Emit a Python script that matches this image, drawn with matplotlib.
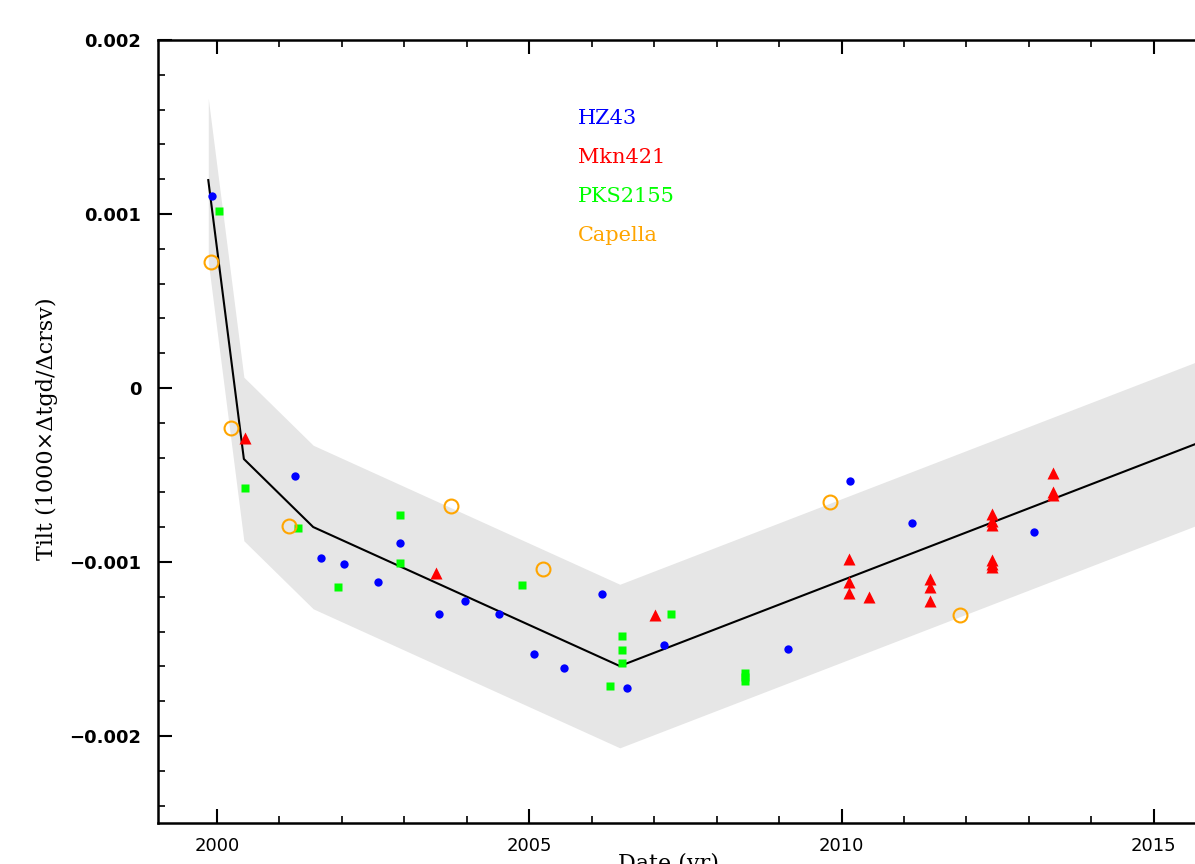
import numpy as np
import matplotlib
matplotlib.use("Agg")
import matplotlib.pyplot as plt
from matplotlib.ticker import MultipleLocator, FuncFormatter

# model line (yr, tilt) and half-width of the shaded band
model_x = [1999.86, 2000.43, 2001.54, 2006.45, 2016.0]
model_y = [0.001195, -0.000408, -0.000799, -0.001598, -0.000276]
band_halfwidth = 0.00047

hz43_x = [1999.92, 2001.25, 2001.66, 2002.03, 2002.57, 2002.93, 2003.56, 2003.97,
          2004.52, 2005.08, 2005.56, 2006.17, 2006.57, 2007.16, 2009.14, 2010.13,
          2011.13, 2013.09]
hz43_y = [0.001103, -0.000506, -0.000975, -0.001013, -0.001113, -0.000891, -0.001299, -0.001222,
          -0.001301, -0.001531, -0.001611, -0.001182, -0.001726, -0.001477, -0.001500, -0.000533,
          -0.000778, -0.000829]

mkn421_x = [2000.45, 2003.51, 2007.02, 2010.125, 2010.125, 2010.125, 2010.445,
            2011.417, 2011.417, 2011.417,
            2012.405, 2012.405, 2012.405, 2012.405, 2012.405, 2012.405,
            2013.38, 2013.38, 2013.38]
mkn421_y = [-0.000287, -0.001065, -0.001305, -0.000983, -0.001113, -0.001180, -0.001203,
            -0.001099, -0.001142, -0.001222,
            -0.000727, -0.000764, -0.000787, -0.000989, -0.001011, -0.001029,
            -0.000489, -0.000598, -0.000615]

pks2155_x = [2000.03, 2000.45, 2001.30, 2001.94, 2002.93, 2002.93, 2004.88,
             2006.49, 2006.49, 2006.49, 2006.30, 2007.27,
             2008.45, 2008.45, 2008.45]
pks2155_y = [0.001017, -0.000573, -0.000803, -0.001142, -0.000730, -0.001006, -0.001130,
             -0.001424, -0.001504, -0.001579, -0.001711, -0.001297,
             -0.001638, -0.001661, -0.001684]

capella_x = [1999.90, 2000.22, 2001.15, 2003.75, 2005.22, 2009.82, 2011.90]
capella_y = [0.000724, -0.000232, -0.000795, -0.000680, -0.001040, -0.000654, -0.001304]

fig = plt.figure(figsize=(11.95, 8.64), dpi=100)
W, H = 1195.0, 864.0
# axes run past the right edge of the figure, like the cropped original
ax = fig.add_axes([158 / W, (H - 823) / H, (1215 - 158) / W, (823 - 40) / H])

mx = np.array(model_x)
my = np.array(model_y)
ax.fill_between(mx, my - band_halfwidth, my + band_halfwidth, color="#e6e6e6", lw=0, zorder=1)
ax.plot(mx, my, color="black", lw=1.5, zorder=2)

ax.plot(hz43_x, hz43_y, "o", color="#0000ff", ms=6, mec="none", zorder=4)
ax.plot(mkn421_x, mkn421_y, "^", color="#ff0000", ms=8, mec="none", zorder=4)
ax.plot(pks2155_x, pks2155_y, "s", color="#00ff00", ms=6, mec="none", zorder=4)
ax.plot(capella_x, capella_y, "o", mfc="none", mec="#ffa500", ms=10, mew=1.5, zorder=4)

serif = "DejaVu Serif"

# source labels
labels = [("HZ43", "#0000ff"), ("Mkn421", "#ff0000"), ("PKS2155", "#00ff00"), ("Capella", "#ffa500")]
for i, (name, col) in enumerate(labels):
    ax.text(2005.78, 0.001546 - i * 0.000224, name, color=col, fontsize=15,
            family=serif, va="center", ha="left")

ax.set_xlim(1999.055, 1999.055 + (1215 - 158) / 62.45)
ax.set_ylim(-0.0025, 0.002)

ax.xaxis.set_major_locator(MultipleLocator(5))
ax.xaxis.set_minor_locator(MultipleLocator(1))
ax.yaxis.set_major_locator(MultipleLocator(0.001))
ax.yaxis.set_minor_locator(MultipleLocator(0.0002))


def yfmt(v, pos):
    if abs(v) < 1e-9:
        return "0"
    return ("%.3f" % v).replace("-", "\u2212")


ax.yaxis.set_major_formatter(FuncFormatter(yfmt))
ax.xaxis.set_major_formatter(FuncFormatter(lambda v, p: "%d" % round(v)))

ax.tick_params(which="both", direction="in", top=True, right=True)
ax.tick_params(which="major", length=10, width=1.5)
ax.tick_params(which="minor", length=5, width=1.2)
ax.tick_params(axis="y", labelsize=13, pad=12)
ax.tick_params(axis="x", labelsize=13, pad=10)
for lab in ax.get_yticklabels():
    lab.set_fontweight("bold")
for sp in ax.spines.values():
    sp.set_linewidth(1.8)

fig.text(47 / W, (H - 429) / H, "Tilt (1000\u00d7\u0394tgd/\u0394crsv)", rotation=90,
         ha="center", va="center", fontsize=16, family=serif)
fig.text(668 / W, (H - 853) / H, "Date (yr)", ha="center", va="top",
         fontsize=16, family=serif)

fig.savefig("out.png", dpi=100)
